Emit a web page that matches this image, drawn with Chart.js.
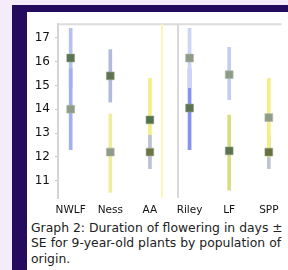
<!DOCTYPE html>
<html><head><meta charset="utf-8">
<script src="https://cdn.jsdelivr.net/npm/chart.js@4"></script>
<style>
html,body{margin:0;padding:0;width:288px;height:270px;overflow:hidden;background:#f5ecfb;}
#frame{position:absolute;left:12px;top:5px;width:300px;height:300px;background:#240b5e;}
#panel{position:absolute;left:27px;top:12px;width:300px;height:300px;background:#fff;}
#wrap{position:absolute;left:27px;top:12px;width:261px;height:206px;}
#cap{position:absolute;left:31px;top:220px;font:12.4px 'DejaVu Sans';line-height:15.3px;color:#222;white-space:nowrap;}
</style></head>
<body>
<div id="frame"></div><div id="panel"></div>
<div id="wrap"><canvas id="c" width="261" height="206"></canvas></div>
<div id="cap">Graph 2: Duration of flowering in days ±<br>SE for 9-year-old plants by population of<br>origin.</div>
<script>
// ---- data ----
const categories = ['NWLF', 'Ness', 'AA', 'Riley', 'LF', 'SPP'];
const yTicks = [11, 12, 13, 14, 15, 16, 17];
// series 1 (darker markers)
const meanA = [16.15, 15.4, 13.55, 14.05, 12.25, 12.2];
const lowA  = [14.9, 14.3, 11.8, 12.3, 10.6, 11.5];
const highA = [17.4, 16.5, 15.3, 15.7, 13.75, 12.9];
// series 2 (lighter markers)
const meanB = [14.0, 12.2, 12.2, 16.15, 15.45, 13.65];
const lowB  = [12.3, 10.5, 11.5, 14.9, 14.4, 12.0];
const highB = [15.7, 13.8, 12.9, 17.4, 16.6, 15.3];
const dividers = [2.3, 2.7];

// ---- styles ----
const barColA = ['#b8c0f2', '#afbcdc', '#f3ef84', '#8593f2', '#d8dd80', '#c0c4d0'];
const barColB = ['#a4aff0', '#efed9e', '#bcc0da', '#cdd4f6', '#c6cdf2', '#f3ef84'];
const dotColA = ['#5b7350', '#5e7452', '#55704e', '#5b7350', '#5d7250', '#66713f'];
const dotColB = ['#8e9c87', '#8e9c87', '#6b7442', '#8e9c87', '#8e9c87', '#8e9c87'];

const extras = {
  id: 'extras',
  beforeDatasetsDraw(chart) {
    const {ctx, chartArea: a, scales: {x}} = chart;
    ctx.save();
    ctx.lineWidth = 2;
    ctx.strokeStyle = '#dcdcdc';
    ctx.beginPath(); ctx.moveTo(a.left, a.top); ctx.lineTo(a.right, a.top); ctx.stroke();
    const cols = ['#fbf8b8', '#d8d8dc'];
    dividers.forEach((v, i) => {
      const px = Math.round(x.getPixelForValue(v));
      ctx.strokeStyle = cols[i];
      ctx.beginPath(); ctx.moveTo(px, a.top); ctx.lineTo(px, a.bottom); ctx.stroke();
    });
    ctx.restore();
  }
};

new Chart(document.getElementById('c'), {
  type: 'scatter',
  data: {
    datasets: [
      {type: 'bar', order: 3, grouped: false, barThickness: 3,
       data: categories.map((c, i) => ({x: i, y: [lowA[i], highA[i]]})),
       backgroundColor: barColA},
      {type: 'bar', order: 2, grouped: false, barThickness: 3,
       data: categories.map((c, i) => ({x: i, y: [lowB[i], highB[i]]})),
       backgroundColor: barColB},
      {type: 'scatter', order: 1, pointStyle: 'rect', pointRadius: 5.5,
       data: categories.map((c, i) => ({x: i, y: meanA[i]})),
       backgroundColor: dotColA, borderColor: 'rgba(140,160,130,0.6)', borderWidth: 1},
      {type: 'scatter', order: 1, pointStyle: 'rect', pointRadius: 5.5,
       data: categories.map((c, i) => ({x: i, y: meanB[i]})),
       backgroundColor: dotColB, borderColor: 'rgba(170,180,165,0.6)', borderWidth: 1}
    ]
  },
  options: {
    responsive: false, animation: false, devicePixelRatio: 1,
    layout: {padding: {top: 7, left: 0, right: 0, bottom: 0}},
    plugins: {legend: {display: false}, tooltip: {enabled: false}},
    scales: {
      x: {
        type: 'linear', min: -0.32, max: 5.32, offset: false,
        afterBuildTicks: s => { s.ticks = categories.map((c, i) => ({value: i})); },
        afterFit: s => { s.height = 20; },
        grid: {display: false, drawTicks: false},
        border: {display: false},
        ticks: {autoSkip: false, maxRotation: 0, padding: 6, color: '#111',
                font: {family: 'DejaVu Sans', size: 10.5},
                callback: v => categories[v] ?? ''}
      },
      y: {
        type: 'linear', min: 10.27, max: 17.57,
        afterBuildTicks: s => { s.ticks = yTicks.map(v => ({value: v})); },
        afterFit: s => { s.width = 31; },
        grid: {drawOnChartArea: false, drawTicks: true, tickLength: 3, color: '#bcc4f2'},
        border: {color: '#d4d4d4', width: 2},
        ticks: {padding: 5, color: '#111', font: {family: 'DejaVu Sans', size: 12}}
      }
    }
  },
  plugins: [extras]
});
</script>
</body></html>
